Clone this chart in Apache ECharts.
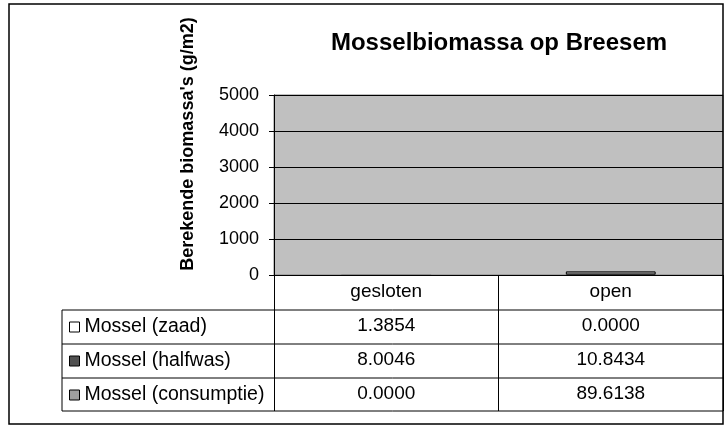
<!DOCTYPE html>
<html>
<head>
<meta charset="utf-8">
<script src="https://cdn.jsdelivr.net/npm/echarts@6/dist/echarts.min.js"></script>
<style>
  html, body { margin: 0; padding: 0; background: #fff; }
  #main { width: 728px; height: 429px; }
</style>
</head>
<body>
<div id="main"></div>
<script>
// chart data
var categories = ['gesloten', 'open'];
var seriesNames = ['Mossel (zaad)', 'Mossel (halfwas)', 'Mossel (consumptie)'];
var zaad = [1.3854, 0.0000];
var halfwas = [8.0046, 10.8434];
var consumptie = [0.0000, 89.6138];
var yTicks = [0, 1000, 2000, 3000, 4000, 5000];

var font = 'Arial, "Liberation Sans", sans-serif';
var plotBottom = 275;
// table row rules (y), header row first
var rules = [310, 344, 378, 411];
var tableFont = 19;

var chart = echarts.init(document.getElementById('main'));

// one hidden x axis per table row, labels read from the series arrays
function rowAxis(values, row) {
  var top = rules[row], bottom = rules[row + 1];
  var mid = (top + bottom) / 2;
  return {
    type: 'category',
    data: categories,
    position: 'bottom',
    offset: mid - plotBottom - tableFont / 2 - 1,
    axisLine: {show: false},
    axisTick: {show: false},
    axisLabel: {
      margin: 0,
      color: '#000',
      fontFamily: font,
      fontSize: tableFont,
      formatter: function (v, i) { return values[i].toFixed(4) }
    }
  }
}

// zero values get no outline, so empty bars stay invisible
function barData(values) {
  return values.map(function (v) {
    return {value: v, itemStyle: {borderWidth: v > 0 ? 1 : 0}}
  })
}

var option = {
  animation: false,
  backgroundColor: '#fff',
  title: {
    text: 'Mosselbiomassa op Breesem',
    left: 494,
    top: 26,
    textAlign: 'center',
    textStyle: {fontFamily: font, fontWeight: 'bold', fontSize: 24, color: '#000'}
  },
  legend: {
    orient: 'vertical',
    left: 69,
    top: rules[0] + 7,
    padding: 0,
    itemWidth: 10,
    itemHeight: 10,
    itemGap: 14,
    icon: 'rect',
    selectedMode: false,
    itemStyle: {borderColor: '#000', borderWidth: 1},
    textStyle: {fontFamily: font, fontSize: 19.5, color: '#000', lineHeight: 20},
    data: seriesNames
  },
  grid: {
    left: 274,
    right: 5,
    top: 95,
    bottom: 429 - plotBottom,
    show: true,
    backgroundColor: '#C0C0C0',
    borderColor: '#808080',
    borderWidth: 1
  },
  xAxis: [
    {
      type: 'category',
      data: categories,
      axisLine: {lineStyle: {color: '#000', width: 1}},
      axisTick: {show: true, length: rules[3] - plotBottom, lineStyle: {color: '#000'}},
      axisLabel: {margin: (rules[0] - plotBottom - tableFont) / 2 - 1, color: '#000', fontFamily: font, fontSize: tableFont}
    },
    rowAxis(zaad, 0),
    rowAxis(halfwas, 1),
    rowAxis(consumptie, 2)
  ],
  yAxis: {
    type: 'value',
    min: yTicks[0],
    max: yTicks[yTicks.length - 1],
    interval: 1000,
    axisLine: {show: true, lineStyle: {color: '#000'}},
    axisTick: {show: true, length: 5, lineStyle: {color: '#000'}},
    axisLabel: {margin: 15, color: '#000', fontFamily: font, fontSize: 18,
      formatter: function (v) { return String(v) }},
    splitLine: {lineStyle: {color: '#000', width: 1}}
  },
  series: [
    {name: seriesNames[0], type: 'bar', stack: 'm', barWidth: '40%', data: zaad,
      itemStyle: {color: '#FFFFFF', borderWidth: 0}},
    {name: seriesNames[1], type: 'bar', stack: 'm', barWidth: '40%', data: halfwas,
      itemStyle: {color: '#505050', borderWidth: 0}},
    {name: seriesNames[2], type: 'bar', stack: 'm', barWidth: '40%', data: barData(consumptie),
      itemStyle: {color: '#A0A0A0', borderColor: '#000'}}
  ],
  graphic: [
    // outer chart border
    {type: 'rect', shape: {x: 9, y: 4, width: 714, height: 420}, silent: true, z: 100,
      style: {fill: null, stroke: '#000', lineWidth: 1.5}},
    // y axis title
    {type: 'text', x: 188, y: 144, rotation: Math.PI / 2, silent: true,
      style: {text: "Berekende biomassa's (g/m2)", font: 'bold 18px ' + font, fill: '#000',
        align: 'center', verticalAlign: 'middle'}},
    // table rules
    {type: 'polyline', silent: true, z: 50,
      shape: {points: [[62, rules[0]], [723, rules[0]]]}, style: {stroke: '#000', lineWidth: 1}},
    {type: 'polyline', silent: true, z: 50,
      shape: {points: [[62, rules[1]], [723, rules[1]]]}, style: {stroke: '#000', lineWidth: 1}},
    {type: 'polyline', silent: true, z: 50,
      shape: {points: [[62, rules[2]], [723, rules[2]]]}, style: {stroke: '#000', lineWidth: 1}},
    {type: 'polyline', silent: true, z: 50,
      shape: {points: [[62, rules[0]], [62, rules[3]], [723, rules[3]]]},
      style: {stroke: '#000', lineWidth: 1, fill: null}}
  ]
};

chart.setOption(option);
</script>
</body>
</html>
